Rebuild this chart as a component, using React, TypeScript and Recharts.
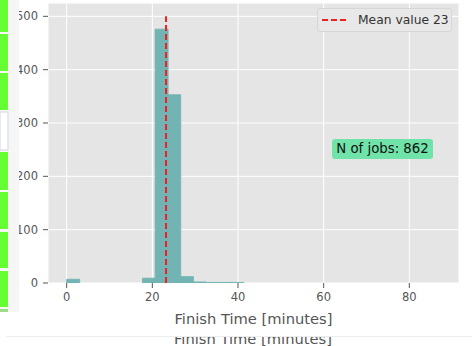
import React from 'react';
import { ComposedChart, Bar, XAxis, YAxis, CartesianGrid, ReferenceLine, Legend } from 'recharts';

// histogram of finish times, 30 bins
const BIN_WIDTH = 2.95;
const BIN_COUNTS = [7, 0, 0, 0, 0, 0, 9, 476, 353, 12, 2, 1, 1, 1, 0, 0, 0, 0, 0, 0, 0, 0, 0, 0, 0, 0, 0, 0, 0, 0];
const X_TICKS = [0, 20, 40, 60, 80];
const Y_TICKS = [0, 100, 200, 300, 400, 500];
const MEAN_VALUE = 23.2;
const MEAN_LINE_TOP = 500;
const N_JOBS = 862;

const FONT = '"DejaVu Sans", sans-serif';
const BAR_COLOR = '#72b3b3';
const MEAN_COLOR = '#ee2020';

// stuff around the chart in the screenshot (left strip)
const GREEN_STRIPS = [[0, 32], [34, 71], [73, 110], [152, 190], [192, 229], [232, 268], [271, 307]];

const data = BIN_COUNTS.map((count, i) => ({ x: (i + 0.5) * BIN_WIDTH, count }));

function LegendBox() {
  return (
    <div style={{
      width: 133, height: 22, background: '#e8e8e8', border: '1px solid #d6d6d6', borderRadius: 3,
      display: 'flex', alignItems: 'center', fontFamily: FONT, fontSize: 12.3, color: '#333333',
    }}>
      <svg width={40} height={22}>
        <line x1={4} x2={29} y1={11} y2={11} stroke={MEAN_COLOR} strokeWidth={2} strokeDasharray="6 3" />
      </svg>
      <span>Mean value {Math.round(MEAN_VALUE)}</span>
    </div>
  );
}

export default function App() {
  const tick = { fill: '#555555', fontSize: 11.5, fontFamily: FONT };
  return (
    <div style={{ position: 'fixed', left: 0, top: 0, width: 472, height: 346, background: '#ffffff', overflow: 'hidden' }}>
      <ComposedChart width={472} height={346} data={data}
        margin={{ top: 3, right: 13, bottom: 13, left: 8 }} barCategoryGap={0} barGap={0}>
        <CartesianGrid stroke="#ffffff" strokeWidth={1} fill="#e5e5e5" fillOpacity={1} />
        <XAxis dataKey="x" type="number" domain={[-4.36, 91.6]} ticks={X_TICKS} allowDataOverflow
          height={50} tickSize={5} tickMargin={5} tick={tick} axisLine={false}
          tickLine={{ stroke: '#555555' }}
          label={{ value: 'Finish Time [minutes]', position: 'insideBottom', offset: 9, fill: '#555555', fontSize: 14.7, fontFamily: FONT }} />
        <YAxis type="number" domain={[0, 525]} ticks={Y_TICKS} allowDataOverflow width={40}
          tickSize={5} tickMargin={5} tick={tick} axisLine={false} tickLine={{ stroke: '#555555' }} />
        <Bar dataKey="count" fill={BAR_COLOR} stroke={BAR_COLOR} strokeWidth={0.8} isAnimationActive={false} />
        <ReferenceLine segment={[{ x: MEAN_VALUE, y: 0 }, { x: MEAN_VALUE, y: MEAN_LINE_TOP }]}
          stroke={MEAN_COLOR} strokeWidth={2} strokeDasharray="6 3" />
        <Legend layout="vertical" align="center" verticalAlign="middle"
          wrapperStyle={{ left: 317, top: 8, width: 135, height: 24 }} content={() => <LegendBox />} />
      </ComposedChart>

      <div style={{
        position: 'absolute', left: 332, top: 139, width: 101, height: 20, background: '#6fe3a8', borderRadius: 3,
        fontFamily: FONT, fontSize: 13.3, color: '#111', lineHeight: '20px', textAlign: 'center',
      }}>
        N of jobs: {N_JOBS}
      </div>

      <svg width={472} height={346} style={{ position: 'absolute', left: 0, top: 0, pointerEvents: 'none' }}>
        <rect x={0} y={0} width={19} height={312} fill="#f6f6f6" />
        {GREEN_STRIPS.map(([y0, y1], i) => (
          <rect key={i} x={0} y={y0} width={8} height={y1 - y0} fill="#66ff33" />
        ))}
        <rect x={0} y={112} width={8} height={38} fill="#ffffff" stroke="#cfd6e2" strokeWidth={1} />
        <rect x={0} y={309} width={8} height={3} fill="#9fdc86" />
        <text x={253} y={343.5} textAnchor="middle" fontFamily={FONT} fontSize={14.7} fill="#555555">
          Finish Time [minutes]
        </text>
        <rect x={0} y={328} width={472} height={9} fill="#ffffff" />
        <line x1={6} x2={472} y1={336.5} y2={336.5} stroke="#ececec" strokeWidth={1} />
      </svg>
    </div>
  );
}
